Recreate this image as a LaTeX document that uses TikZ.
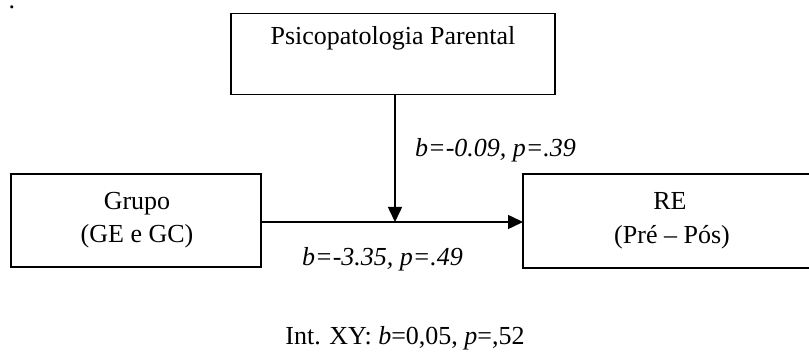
\documentclass[tikz,border=0pt]{standalone}
\usepackage{fontspec}
\setmainfont{Liberation Serif}
\usetikzlibrary{arrows.meta}
\begin{document}
\begin{tikzpicture}[x=1pt,y=-1pt,
  boxnode/.style={draw, line width=1.5pt, inner sep=0pt, outer sep=0pt},
  txt/.style={font=\fontsize{26}{33}\selectfont, inner sep=0pt},
  conn/.style={line width=1.5pt, -{Triangle[length=15pt,width=14pt]}}]
\clip (0,0) rectangle (809,352);
\fill[white] (0,0) rectangle (809,352);
\node[txt, anchor=base] (dot) at (12,9) {.};
% top box
\node[boxnode, minimum width=324pt, minimum height=81pt] (top) at (393,54) {};
\node[txt, anchor=base] (toptxt) at (393,45) {Psicopatologia Parental};
% left box
\node[boxnode, minimum width=250pt, minimum height=93pt] (grupo) at (136,220.5) {};
\node[txt, anchor=base] (g1) at (137,210) {Grupo};
\node[txt, anchor=base] (g2) at (137,243) {(GE e GC)};
% right box
\node[boxnode, minimum width=294pt, minimum height=94pt] (re) at (670,221) {};
\node[txt, anchor=base] (r1) at (670,210) {RE};
\node[txt, anchor=base] (r2) at (672,244) {(Pré – Pós)};
% connectors
\coordinate (mid) at (395,222);
\draw[conn] (grupo.east |- mid) -- (re.west |- mid);
\draw[conn] (top.south -| mid) -- (mid);
% labels
\node[txt, anchor=base west] (lb1) at (415,157) {\textit{b=-0.09, p=.39}};
\node[txt, anchor=base west] (lb2) at (302,266) {\textit{b=-3.35, p=.49}};
\node[txt, anchor=base] (lb3) at (405,345) {Int. XY: \textit{b}=0,05, \textit{p}=,52};
\end{tikzpicture}
\end{document}
